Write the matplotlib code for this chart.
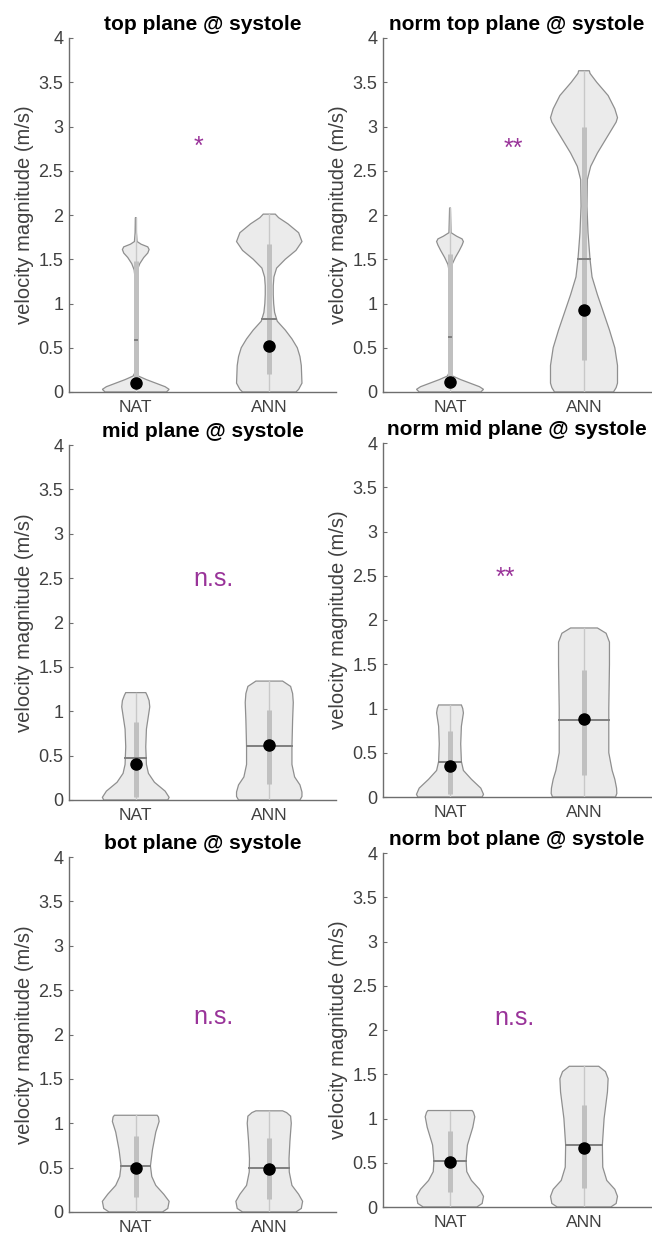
"""
Violin plots of velocity magnitude (NAT vs ANN) at systole,
for top / mid / bot planes, raw and normalised.
"""

import numpy as np
import matplotlib
matplotlib.use('Agg')
import matplotlib.pyplot as plt
from matplotlib.ticker import FormatStrFormatter

# --- CONFIGURATION ---
plt.rcParams['font.family'] = ['Liberation Sans', 'DejaVu Sans']

GROUPS = ['NAT', 'ANN']
TITLES = ['top plane @ systole', 'norm top plane @ systole',
          'mid plane @ systole', 'norm mid plane @ systole',
          'bot plane @ systole', 'norm bot plane @ systole']
SIG_LABELS = ['*', '**', 'n.s.', '**', 'n.s.', 'n.s.']
SIG_X = [1.43, 1.40, 1.43, 1.34, 1.43, 1.33]
SIG_Y = [2.69, 2.67, 2.41, 2.40, 2.12, 2.06]

# --- violin outlines: (height, half width) ---
top_nat_y = [0, 0.03, 0.06, 0.10, 0.14, 0.18, 0.22, 1.30, 1.38, 1.45, 1.52, 1.57, 1.61, 1.64, 1.67, 1.70, 1.80, 1.97]
top_nat_w = [0.23, 0.25, 0.22, 0.15, 0.08, 0.02, 0.006, 0.006, 0.012, 0.03, 0.06, 0.09, 0.10, 0.09, 0.04, 0.01, 0.005, 0.003]
top_ann_y = [0, 0.03, 0.1, 0.3, 0.4, 0.5, 0.6, 0.7, 0.8, 0.9, 1.0, 1.1, 1.2, 1.3, 1.4, 1.5, 1.6, 1.7, 1.8, 1.9, 1.97, 2.01]
top_ann_w = [0.20, 0.22, 0.245, 0.24, 0.23, 0.21, 0.17, 0.12, 0.06, 0.04, 0.033, 0.03, 0.03, 0.035, 0.055, 0.12, 0.20, 0.245, 0.22, 0.14, 0.07, 0.045]

ntop_nat_y = [0, 0.03, 0.06, 0.10, 0.14, 0.18, 0.22, 1.36, 1.44, 1.52, 1.60, 1.66, 1.70, 1.73, 1.76, 1.80, 2.08]
ntop_nat_w = [0.23, 0.25, 0.22, 0.15, 0.08, 0.02, 0.006, 0.006, 0.015, 0.04, 0.07, 0.09, 0.10, 0.09, 0.05, 0.008, 0.003]
ntop_ann_y = [0, 0.05, 0.1, 0.3, 0.5, 0.7, 0.9, 1.1, 1.3, 1.5, 1.8, 2.1, 2.4, 2.55, 2.7, 2.9, 3.05, 3.1, 3.2, 3.35, 3.5, 3.6, 3.63]
ntop_ann_w = [0.22, 0.24, 0.25, 0.25, 0.23, 0.19, 0.145, 0.10, 0.06, 0.045, 0.03, 0.022, 0.025, 0.05, 0.10, 0.18, 0.24, 0.25, 0.23, 0.18, 0.095, 0.045, 0.04]

mid_nat_y = [0, 0.03, 0.1, 0.2, 0.3, 0.4, 0.6, 0.8, 0.95, 1.05, 1.12, 1.18, 1.21]
mid_nat_w = [0.24, 0.25, 0.22, 0.14, 0.095, 0.08, 0.075, 0.08, 0.095, 0.105, 0.10, 0.085, 0.075]
mid_ann_y = [0, 0.04, 0.09, 0.17, 0.26, 0.4, 0.6, 0.9, 1.1, 1.2, 1.28, 1.34]
mid_ann_w = [0.23, 0.245, 0.245, 0.23, 0.19, 0.17, 0.17, 0.175, 0.18, 0.175, 0.16, 0.10]

nmid_nat_y = [0, 0.03, 0.1, 0.2, 0.3, 0.4, 0.6, 0.8, 0.95, 1.0, 1.04]
nmid_nat_w = [0.24, 0.25, 0.23, 0.16, 0.10, 0.085, 0.08, 0.085, 0.1, 0.095, 0.085]
nmid_ann_y = [0, 0.04, 0.1, 0.2, 0.3, 0.5, 1.0, 1.5, 1.75, 1.85, 1.91]
nmid_ann_w = [0.235, 0.245, 0.243, 0.23, 0.21, 0.185, 0.185, 0.19, 0.19, 0.165, 0.10]

bot_nat_y = [0, 0.04, 0.12, 0.2, 0.3, 0.4, 0.52, 0.7, 0.9, 1.02, 1.07, 1.09]
bot_nat_w = [0.20, 0.24, 0.25, 0.21, 0.15, 0.12, 0.11, 0.125, 0.15, 0.175, 0.17, 0.16]
bot_ann_y = [0, 0.04, 0.12, 0.2, 0.3, 0.45, 0.6, 0.8, 1.0, 1.08, 1.12, 1.14]
bot_ann_w = [0.20, 0.24, 0.25, 0.22, 0.17, 0.15, 0.148, 0.155, 0.165, 0.16, 0.13, 0.10]

nbot_nat_y = [0, 0.04, 0.12, 0.2, 0.3, 0.4, 0.52, 0.7, 0.9, 1.02, 1.07, 1.09]
nbot_nat_w = [0.20, 0.24, 0.25, 0.22, 0.16, 0.125, 0.12, 0.13, 0.17, 0.185, 0.175, 0.165]
nbot_ann_y = [0, 0.04, 0.12, 0.2, 0.3, 0.45, 0.7, 1.0, 1.3, 1.45, 1.53, 1.59]
nbot_ann_w = [0.20, 0.24, 0.25, 0.23, 0.17, 0.14, 0.137, 0.15, 0.175, 0.18, 0.16, 0.11]

# --- summary stats per panel: [NAT, ANN] ---
whisk_hi = [[1.97, 2.01], [2.08, 3.63], [1.21, 1.34], [1.04, 1.91], [1.09, 1.14], [1.09, 1.59]]
q1 = [[0.04, 0.20], [0.04, 0.36], [0.03, 0.18], [0.03, 0.25], [0.17, 0.15], [0.17, 0.22]]
q3 = [[1.48, 1.67], [1.56, 3.00], [0.88, 1.01], [0.75, 1.43], [0.86, 0.83], [0.86, 1.15]]
medians = [[0.10, 0.52], [0.11, 0.93], [0.41, 0.62], [0.35, 0.88], [0.50, 0.49], [0.51, 0.67]]
means = [[0.59, 0.83], [0.62, 1.50], [0.47, 0.61], [0.40, 0.87], [0.52, 0.50], [0.52, 0.70]]

PROFILES = [
    [(top_nat_y, top_nat_w), (top_ann_y, top_ann_w)],
    [(ntop_nat_y, ntop_nat_w), (ntop_ann_y, ntop_ann_w)],
    [(mid_nat_y, mid_nat_w), (mid_ann_y, mid_ann_w)],
    [(nmid_nat_y, nmid_nat_w), (nmid_ann_y, nmid_ann_w)],
    [(bot_nat_y, bot_nat_w), (bot_ann_y, bot_ann_w)],
    [(nbot_nat_y, nbot_nat_w), (nbot_ann_y, nbot_ann_w)],
]

# axes boxes in pixels: left, top, right, bottom
AX_PX = [(69, 38, 336, 392), (383, 38, 651, 392),
         (69, 445, 336, 800), (383, 443, 651, 797),
         (69, 857, 336, 1212), (383, 853, 651, 1207)]
FIG_W, FIG_H = 652, 1236

FILL = '#ebebeb'
EDGE = '#8f8f8f'
BOX = '#c0c0c0'
WHISK = '#c8c8c8'
MEAN = '#7f7f7f'
AXIS = '#6e6e6e'
TXT = '#404040'
SIG = '#993399'


def draw_violin(ax, pos, y, w, lo, hi, b1, b3, med, mean):
    y = np.asarray(y)
    w = np.asarray(w)
    xs = np.concatenate([pos - w, (pos + w)[::-1]])
    ys = np.concatenate([y, y[::-1]])
    ax.fill(xs, ys, facecolor=FILL, edgecolor=EDGE, lw=0.9, zorder=2)
    ax.plot([pos, pos], [lo, hi], color=WHISK, lw=1.0, zorder=3)
    ax.plot([pos, pos], [b1, b3], color=BOX, lw=3.6, solid_capstyle='butt', zorder=4)
    mw = np.interp(mean, y, w)
    ax.plot([pos - mw, pos + mw], [mean, mean], color=MEAN, lw=1.4, zorder=5)
    ax.plot(pos, med, 'o', color='black', ms=8, zorder=6)


def generate_plot():
    fig = plt.figure(figsize=(FIG_W / 100, FIG_H / 100), dpi=100)
    for i, (l, t, r, b) in enumerate(AX_PX):
        ax = fig.add_axes([l / FIG_W, 1 - b / FIG_H, (r - l) / FIG_W, (b - t) / FIG_H])
        for j, (y, w) in enumerate(PROFILES[i]):
            draw_violin(ax, j + 1, y, w, 0.0, whisk_hi[i][j], q1[i][j], q3[i][j],
                        medians[i][j], means[i][j])

        ax.text(SIG_X[i], SIG_Y[i], SIG_LABELS[i], color=SIG, fontsize=18,
                ha='left', va='baseline')

        ax.set_xlim(0.5, 2.5)
        ax.set_ylim(0, 4)
        ax.set_xticks([1, 2])
        ax.set_xticklabels(GROUPS)
        ax.set_yticks(np.arange(0, 4.01, 0.5))
        ax.yaxis.set_major_formatter(FormatStrFormatter('%g'))
        ax.tick_params(axis='y', direction='in', length=3, width=0.8, color=AXIS,
                       labelsize=13, labelcolor=TXT, pad=4)
        ax.tick_params(axis='x', length=0, labelsize=12.5, labelcolor=TXT, pad=6)
        for side in ['top', 'right']:
            ax.spines[side].set_visible(False)
        for side in ['left', 'bottom']:
            ax.spines[side].set_color(AXIS)
            ax.spines[side].set_linewidth(1.0)
        ax.set_ylabel('velocity magnitude (m/s)', fontsize=14.5, color=TXT, labelpad=3)
        ax.set_title(TITLES[i], fontsize=15, fontweight='bold', pad=6)

    fig.savefig('out.png', dpi=100, facecolor='white')


if __name__ == "__main__":
    generate_plot()
    print("[SUCCESS] saved out.png")
